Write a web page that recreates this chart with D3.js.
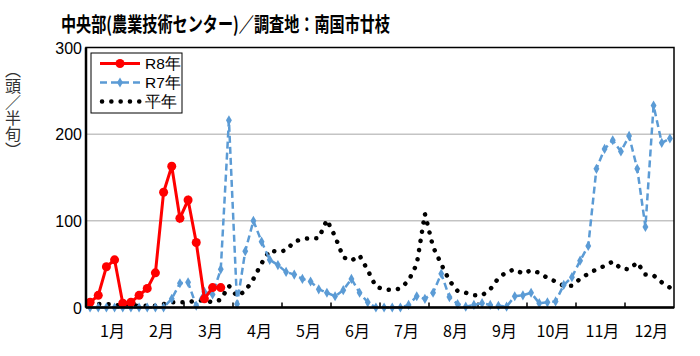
<!DOCTYPE html>
<html><head><meta charset="utf-8">
<script src="https://cdn.jsdelivr.net/npm/d3@7"></script>
<style>
body{margin:0;background:#fff;}
svg{display:block;}
text{font-family:"Liberation Sans","Noto Sans CJK JP",sans-serif;}
</style></head>
<body>
<svg id="c" width="700" height="356"></svg>
<script>
const months = ["1月","2月","3月","4月","5月","6月","7月","8月","9月","10月","11月","12月"];
const yTicks = [0,100,200,300];
const seriesNames = ["R8年","R7年","平年"];
const r8 = [6,14,47,55,5,6,14,22,40,133,163,103,124,75,10,23,23];
const r7 = [0,0,0,0,0,0,0,0,0,0,10,28,29,2,18,15,44,216,4,65,100,76,55,49,41,38,33,30,21,17,13,20,33,17,6,0,0,0,0,3,13,10,17,39,12,4,1,3,5,3,2,1,13,14,17,5,6,7,26,35,54,71,160,183,193,180,198,160,93,233,190,195];
const avg = [6,4,4,3,2,2,2,2,2,4,6,6,6,8,8,6,9,25,13,19,33,51,66,64,66,76,79,80,80,101,82,58,54,60,43,24,21,20,22,31,50,108,70,50,31,19,17,14,14,21,34,41,44,39,43,40,34,30,25,25,33,39,44,48,53,45,44,52,38,37,29,23];

const svg = d3.select("#c");
const L=86, R=674, T=47.5, B=307.5;
const x = d3.scaleLinear().domain([0,72]).range([L,R]);
const y = d3.scaleLinear().domain([0,300]).range([B,T]);
const cjk = "'Noto Sans CJK JP',sans-serif";

// title
svg.append("text").attr("x",61).attr("y",32)
  .style("font-family",cjk).style("font-weight","bold").style("font-size","20px")
  .attr("textLength",329).attr("lengthAdjust","spacingAndGlyphs")
  .text("中央部(農業技術センター)／調査地：南国市廿枝");

// gridlines
svg.append("g").selectAll("line").data([100,200]).join("line")
  .attr("x1",L).attr("x2",R).attr("y1",d=>y(d)).attr("y2",d=>y(d))
  .attr("stroke","#a6a6a6").attr("stroke-width",1);

// y labels
svg.append("g").selectAll("text").data(yTicks).join("text")
  .attr("x",82).attr("y",d=>y(d)+6).attr("text-anchor","end")
  .style("font-size","16px").attr("fill","#000").text(d=>d);

// y axis title vertical
svg.append("text").attr("transform","translate(13,62)")
  .style("writing-mode","vertical-rl").style("font-family",cjk)
  .style("font-size","16px").attr("fill","#333")
  .text("（頭／半旬）");

// month labels
svg.append("g").selectAll("text").data(months).join("text")
  .attr("x",(d,i)=>x(i*6+3)+2).attr("y",337).attr("text-anchor","middle")
  .style("font-family",cjk)
  .style("font-size","16px").text(d=>d);

// month ticks (inside)
svg.append("g").selectAll("line").data(d3.range(1,12)).join("line")
  .attr("x1",d=>x(d*6)).attr("x2",d=>x(d*6)).attr("y1",B).attr("y2",B-5)
  .attr("stroke","#000").attr("stroke-width",1.5);

const line = d3.line().x((d,i)=>x(i+0.5)).y(d=>y(d));

// 平年 dotted
svg.append("path").datum(avg).attr("d",line).attr("fill","none")
  .attr("stroke","#000").attr("stroke-width",4.5).attr("stroke-linecap","round")
  .attr("stroke-dasharray","0.1,9.2");

// R7 dashed
svg.append("path").datum(r7).attr("d",line).attr("fill","none")
  .attr("stroke","#5b9bd5").attr("stroke-width",2.5).attr("stroke-dasharray","7,4");
const diamond = d3.symbol().type(d3.symbolDiamond).size(30);
svg.append("g").selectAll("path").data(r7).join("path")
  .attr("transform",(d,i)=>`translate(${x(i+0.5)},${y(d)})`).attr("d",diamond).attr("fill","#5b9bd5");

// R8 solid
svg.append("path").datum(r8).attr("d",line).attr("fill","none")
  .attr("stroke","#ff0000").attr("stroke-width",3);
svg.append("g").selectAll("circle").data(r8).join("circle")
  .attr("cx",(d,i)=>x(i+0.5)).attr("cy",d=>y(d)).attr("r",4.5).attr("fill","#ff0000");

// frame
svg.append("rect").attr("x",L).attr("y",T).attr("width",R-L).attr("height",B-T)
  .attr("fill","none").attr("stroke","#000").attr("stroke-width",1.5);
svg.append("line").attr("x1",L).attr("x2",L).attr("y1",T).attr("y2",B).attr("stroke","#000").attr("stroke-width",2.5);
svg.append("line").attr("x1",L).attr("x2",R).attr("y1",B).attr("y2",B).attr("stroke","#000").attr("stroke-width",2.5);

// legend
const lg = svg.append("g");
lg.append("rect").attr("x",91).attr("y",53).attr("width",91).attr("height",60)
  .attr("fill","#fff").attr("stroke","#000").attr("stroke-width",1);
const ly = [63.5,82.5,101.5];
lg.append("line").attr("x1",100).attr("x2",140).attr("y1",ly[0]).attr("y2",ly[0]).attr("stroke","#ff0000").attr("stroke-width",3);
lg.append("circle").attr("cx",120).attr("cy",ly[0]).attr("r",4.5).attr("fill","#ff0000");
lg.append("line").attr("x1",100).attr("x2",140).attr("y1",ly[1]).attr("y2",ly[1]).attr("stroke","#5b9bd5").attr("stroke-width",2.5).attr("stroke-dasharray","7,4");
lg.append("path").attr("transform",`translate(120,${ly[1]})`).attr("d",diamond).attr("fill","#5b9bd5");
lg.append("line").attr("x1",102).attr("x2",140).attr("y1",ly[2]).attr("y2",ly[2]).attr("stroke","#000").attr("stroke-width",4.5).attr("stroke-linecap","round").attr("stroke-dasharray","0.1,9.2");
lg.selectAll("text.l").data(seriesNames).join("text").attr("class","l")
  .attr("x",145).attr("y",(d,i)=>ly[i]+5.5)
  .style("font-family","'Liberation Sans',sans-serif").style("font-size","15.5px").text(d=>d);
</script>
</body></html>
